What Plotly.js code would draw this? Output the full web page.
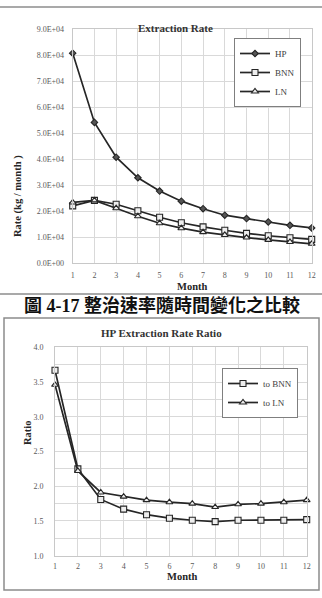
<!DOCTYPE html>
<html>
<head>
<meta charset="utf-8">
<script src="https://cdn.plot.ly/plotly-3.0.1.min.js"></script>
<style>
  html, body { margin: 0; padding: 0; background: #fff; }
  #chart { width: 322px; height: 598px; }
</style>
</head>
<body>
<div id="chart"></div>
<script>
// Months on the horizontal axis of both panels
const months = [1, 2, 3, 4, 5, 6, 7, 8, 9, 10, 11, 12];

// Extraction rate (kg / month) for each method
const rateHP  = [80800, 54200, 40800, 32900, 27800, 23900, 21000, 18500, 17200, 15900, 14600, 13600];
const rateBNN = [22100, 24200, 22700, 20200, 17700, 15600, 14000, 12700, 11500, 10600,  9800,  9200];
const rateLN  = [23400, 24200, 21200, 18100, 15400, 13500, 12000, 10900,  9900,  9000,  8200,  7500];

// Ratio of the HP rate to the other two methods
const ratioToBNN = [3.67, 2.25, 1.81, 1.67, 1.59, 1.54, 1.51, 1.49, 1.51, 1.51, 1.51, 1.52];
const ratioToLN  = [3.46, 2.22, 1.91, 1.85, 1.80, 1.77, 1.75, 1.70, 1.74, 1.75, 1.77, 1.80];

// Tick labels
const rateTickVals = [0, 10000, 20000, 30000, 40000, 50000, 60000, 70000, 80000, 90000];
const rateTickText = ['0.0E+00', '1.0E+04', '2.0E+04', '3.0E+04', '4.0E+04',
                      '5.0E+04', '6.0E+04', '7.0E+04', '8.0E+04', '9.0E+04'];
const ratioTickVals = [1.0, 1.5, 2.0, 2.5, 3.0, 3.5, 4.0];
const ratioTickText = ['1.0', '1.5', '2.0', '2.5', '3.0', '3.5', '4.0'];

const W = 322, H = 598;
const px = v => v / W;           // pixel -> paper x
const py = v => 1 - v / H;       // pixel -> paper y

const LINE = '#262626';
const SERIF = '"Liberation Serif", "Times New Roman", serif';
const CJK = '"Liberation Serif", "Noto Sans CJK TC", serif';

function series(x, y, name, symbol, size, fill, xa, ya, legend) {
  return {
    x: x, y: y, name: name, type: 'scatter', mode: 'lines+markers',
    xaxis: xa, yaxis: ya, legend: legend, cliponaxis: false,
    line: { color: LINE, width: 1.7 },
    marker: { symbol: symbol, size: size, color: fill, line: { color: LINE, width: 1.1 } }
  };
}

const data = [
  series(months, rateHP,  'HP',  'diamond',     5, '#555', 'x',  'y',  'legend'),
  series(months, rateBNN, 'BNN', 'square',      6, '#eee', 'x',  'y',  'legend'),
  series(months, rateLN,  'LN',  'triangle-up', 6, '#eee', 'x',  'y',  'legend'),
  series(months, ratioToBNN, 'to BNN', 'square',      6, '#eee', 'x2', 'y2', 'legend2'),
  series(months, ratioToLN,  'to LN',  'triangle-up', 6, '#eee', 'x2', 'y2', 'legend2')
];

const tickFont = { family: SERIF, size: 8, color: '#595959' };
const GRID = '#d9d9d9';

function xAxis(domain, anchor, standoff) {
  return {
    domain: domain, anchor: anchor, range: [1, 12],
    tickvals: months, ticks: '', ticklabelstandoff: standoff,
    tickfont: tickFont, showgrid: true, gridcolor: GRID, gridwidth: 1,
    showline: true, linecolor: '#c8c8c8', mirror: true, zeroline: false, fixedrange: true
  };
}

const legendStyle = {
  xanchor: 'left', yanchor: 'top',
  bgcolor: '#fff', bordercolor: '#7f7f7f', borderwidth: 1,
  font: { family: SERIF, size: 9, color: '#404040' },
  itemwidth: 30, tracegroupgap: 0
};

const layout = {
  width: W, height: H,
  margin: { l: 0, r: 0, t: 0, b: 0 },
  paper_bgcolor: '#fff', plot_bgcolor: '#fff',
  showlegend: true,
  xaxis: xAxis([px(72.7), px(311.7)], 'y', 4),
  yaxis: {
    domain: [py(263.3), py(29.3)], anchor: 'x', range: [0, 90000],
    tickvals: rateTickVals, ticktext: rateTickText, ticks: '', ticklabelstandoff: 6,
    tickfont: tickFont, showgrid: true, gridcolor: GRID,
    showline: true, linecolor: '#c8c8c8', mirror: true, zeroline: false, fixedrange: true
  },
  xaxis2: xAxis([px(55), px(306.7)], 'y2', 3),
  yaxis2: {
    domain: [py(555.7), py(347.3)], anchor: 'x2', range: [1, 4],
    tickvals: ratioTickVals, ticktext: ratioTickText, ticks: '', ticklabelstandoff: 9,
    tickfont: tickFont, showgrid: true, gridcolor: GRID,
    minor: { dtick: 0.25, showgrid: true, gridcolor: GRID, gridwidth: 1 },
    showline: true, linecolor: '#c8c8c8', mirror: true, zeroline: false, fixedrange: true
  },
  legend: Object.assign({ x: px(234), y: py(38) }, legendStyle),
  legend2: Object.assign({ x: px(222), y: py(368) }, legendStyle),
  shapes: [
    // frame of the upper panel
    { type: 'line', xref: 'paper', yref: 'paper', x0: 0, x1: 1, y0: py(7), y1: py(7),
      line: { color: '#8c8c8c', width: 1.5 } },
    { type: 'line', xref: 'paper', yref: 'paper', x0: 0, x1: 1, y0: py(294), y1: py(294),
      line: { color: '#8c8c8c', width: 1.5 } },
    // frame of the lower panel
    { type: 'rect', xref: 'paper', yref: 'paper', x0: px(4), x1: px(319), y0: py(590), y1: py(318),
      line: { color: '#8c8c8c', width: 1.5 }, fillcolor: 'rgba(0,0,0,0)' }
  ],
  annotations: [
    { text: '<b>Extraction Rate</b>', xref: 'paper', yref: 'paper', x: px(175), y: py(20),
      showarrow: false, font: { family: SERIF, size: 11, color: '#333' } },
    { text: '<b>Rate (kg / month )</b>', xref: 'paper', yref: 'paper', x: px(10), y: py(153),
      textangle: -90, showarrow: false, font: { family: SERIF, size: 10.5, color: '#262626' } },
    { text: '<b>Month</b>', xref: 'paper', yref: 'paper', x: px(192), y: py(286.5),
      showarrow: false, font: { family: SERIF, size: 10.5, color: '#262626' } },
    { text: '<b>圖 4-17 整治速率隨時間變化之比較</b>', xref: 'paper', yref: 'paper',
      x: px(161.5), y: py(305.5), showarrow: false,
      font: { family: CJK, size: 18, color: '#111' } },
    { text: '<b>HP Extraction Rate Ratio</b>', xref: 'paper', yref: 'paper', x: px(161), y: py(333.3),
      showarrow: false, font: { family: SERIF, size: 11, color: '#333' } },
    { text: '<b>Ratio</b>', xref: 'paper', yref: 'paper', x: px(20), y: py(447),
      textangle: -90, showarrow: false, font: { family: SERIF, size: 10.5, color: '#262626' } },
    { text: '<b>Month</b>', xref: 'paper', yref: 'paper', x: px(181.7), y: py(583),
      borderpad: 0, showarrow: false, font: { family: SERIF, size: 10.5, color: '#262626' } }
  ]
};

Plotly.newPlot('chart', data, layout, { staticPlot: true, displayModeBar: false });
</script>
</body>
</html>
